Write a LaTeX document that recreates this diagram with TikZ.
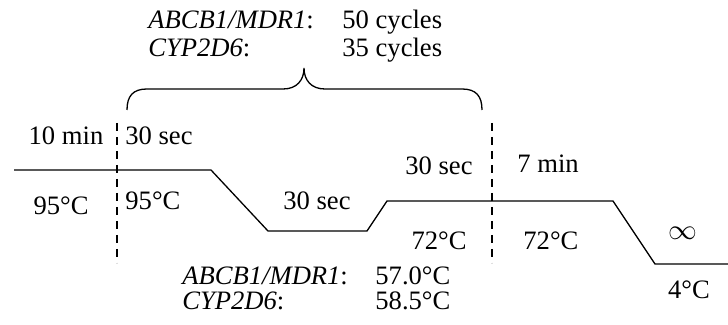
\documentclass[tikz,border=0pt]{standalone}
\usepackage{fontspec}
\setmainfont{Liberation Serif}
\usetikzlibrary{calc}

\begin{document}
\begin{tikzpicture}[x=0.5pt, y=-0.5pt,
    lbl/.style={font=\fontsize{13.3}{16}\selectfont, inner sep=0pt, anchor=base},
    lblw/.style={lbl, anchor=base west},
    profile/.style={line width=0.65pt},
    cut/.style={line width=0.65pt, dash pattern=on 4pt off 3pt},
    brace/.style={line width=0.65pt}
  ]
    \useasboundingbox (0,0) rectangle (728,325);

    % temperature profile
    \coordinate (p0) at (14,170);
    \coordinate (p1) at (211,170);
    \coordinate (p2) at (268,231);
    \coordinate (p3) at (367,231);
    \coordinate (p4) at (387,201);
    \coordinate (p5) at (613,201);
    \coordinate (p6) at (655,264);
    \coordinate (p7) at (728,264);
    \draw[profile] (p0) -- (p1) -- (p2) -- (p3) -- (p4) -- (p5) -- (p6) -- (p7);

    % cycle boundaries
    \coordinate (c1top) at (117,123);
    \coordinate (c1bot) at (117,263);
    \coordinate (c2top) at (492,123);
    \coordinate (c2bot) at (492,263);
    \draw[cut] (c1top) -- (c1bot);
    \draw[cut] (c2top) -- (c2bot);

    % brace over the cycle
    \coordinate (bl) at (127,110);
    \coordinate (br) at (482,110);
    \coordinate (btip) at (304,68);
    \draw[brace] (bl) .. controls (127,96) and (133,89) .. (147,89)
      -- (283,89) .. controls (297,89) and (304,80) .. (btip)
      .. controls (304,80) and (311,89) .. (325,89)
      -- (462,89) .. controls (476,89) and (482,96) .. (br);

    % cycle numbers
    \node[lblw] (ncyA)  at (148,29) {\textit{ABCB1/MDR1}:};
    \node[lblw] (ncyAv) at (342,29) {50 cycles};
    \node[lblw] (ncyC)  at (148,57) {\textit{CYP2D6}:};
    \node[lblw] (ncyCv) at (342,57) {35 cycles};

    % step times
    \node[lbl]  (tinit) at (66,145)  {10 min};
    \node[lblw] (tden)  at (125,145) {30 sec};
    \node[lbl]  (tann)  at (317,210) {30 sec};
    \node[lbl]  (text)  at (439,175) {30 sec};
    \node[lblw] (tfin)  at (517,173) {7 min};
    \node[lbl, anchor=center] (thold) at (683,233) {$\infty$};

    % step temperatures
    \node[lbl]  (kinit) at (61,215)  {95°C};
    \node[lblw] (kden)  at (125,210) {95°C};
    \node[lbl]  (kext)  at (439,250) {72°C};
    \node[lblw] (kfin)  at (523,250) {72°C};
    \node[lbl]  (khold) at (689,299) {4°C};

    % annealing temperatures
    \node[lblw] (annA)  at (182,285) {\textit{ABCB1/MDR1}:};
    \node[lblw] (annAv) at (375,285) {57.0°C};
    \node[lblw] (annC)  at (182,310) {\textit{CYP2D6}:};
    \node[lblw] (annCv) at (375,310) {58.5°C};
  \end{tikzpicture}
\end{document}
